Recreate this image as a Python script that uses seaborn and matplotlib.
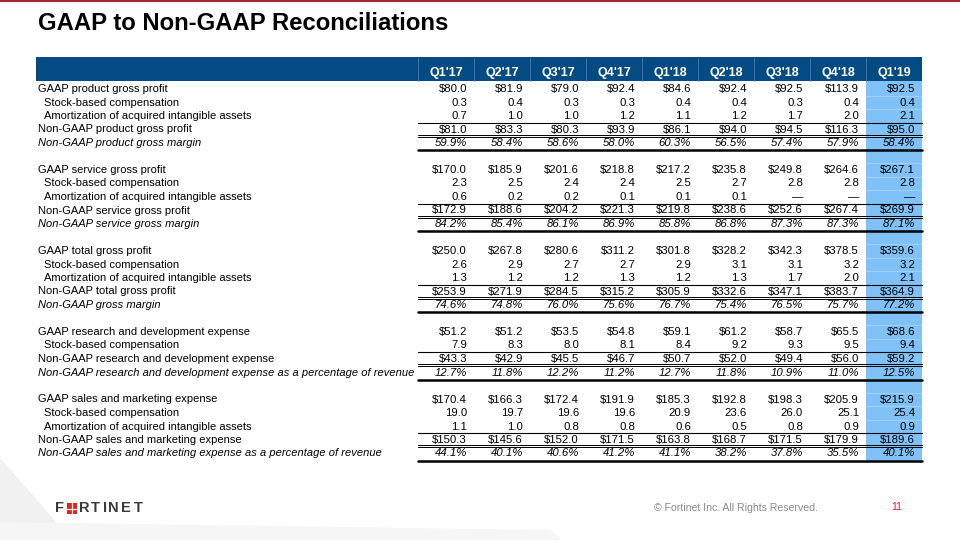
import matplotlib
matplotlib.use("Agg")
import matplotlib.pyplot as plt
import seaborn as sns
import pandas as pd

# Données du tableau (en millions de $)
quarters = ["Q1'17", "Q2'17", "Q3'17", "Q4'17", "Q1'18", "Q2'18", "Q3'18", "Q4'18", "Q1'19"]

product_gaap = [80.0, 81.9, 79.0, 92.4, 84.6, 92.4, 92.5, 113.9, 92.5]
product_sbc = [0.3, 0.4, 0.3, 0.3, 0.4, 0.4, 0.3, 0.4, 0.4]
product_amort = [0.7, 1.0, 1.0, 1.2, 1.1, 1.2, 1.7, 2.0, 2.1]
product_nongaap = [81.0, 83.3, 80.3, 93.9, 86.1, 94.0, 94.5, 116.3, 95.0]
product_margin = [59.9, 58.4, 58.6, 58.0, 60.3, 56.5, 57.4, 57.9, 58.4]

service_gaap = [170.0, 185.9, 201.6, 218.8, 217.2, 235.8, 249.8, 264.6, 267.1]
service_sbc = [2.3, 2.5, 2.4, 2.4, 2.5, 2.7, 2.8, 2.8, 2.8]
service_amort = [0.6, 0.2, 0.2, 0.1, 0.1, 0.1, None, None, None]
service_nongaap = [172.9, 188.6, 204.2, 221.3, 219.8, 238.6, 252.6, 267.4, 269.9]
service_margin = [84.2, 85.4, 86.1, 86.9, 85.8, 86.8, 87.3, 87.3, 87.1]

total_gaap = [250.0, 267.8, 280.6, 311.2, 301.8, 328.2, 342.3, 378.5, 359.6]
total_sbc = [2.6, 2.9, 2.7, 2.7, 2.9, 3.1, 3.1, 3.2, 3.2]
total_amort = [1.3, 1.2, 1.2, 1.3, 1.2, 1.3, 1.7, 2.0, 2.1]
total_nongaap = [253.9, 271.9, 284.5, 315.2, 305.9, 332.6, 347.1, 383.7, 364.9]
total_margin = [74.6, 74.8, 76.0, 75.6, 76.7, 75.4, 76.5, 75.7, 77.2]

rd_gaap = [51.2, 51.2, 53.5, 54.8, 59.1, 61.2, 58.7, 65.5, 68.6]
rd_sbc = [7.9, 8.3, 8.0, 8.1, 8.4, 9.2, 9.3, 9.5, 9.4]
rd_nongaap = [43.3, 42.9, 45.5, 46.7, 50.7, 52.0, 49.4, 56.0, 59.2]
rd_pct = [12.7, 11.8, 12.2, 11.2, 12.7, 11.8, 10.9, 11.0, 12.5]

sm_gaap = [170.4, 166.3, 172.4, 191.9, 185.3, 192.8, 198.3, 205.9, 215.9]
sm_sbc = [19.0, 19.7, 19.6, 19.6, 20.9, 23.6, 26.0, 25.1, 25.4]
sm_amort = [1.1, 1.0, 0.8, 0.8, 0.6, 0.5, 0.8, 0.9, 0.9]
sm_nongaap = [150.3, 145.6, 152.0, 171.5, 163.8, 168.7, 171.5, 179.9, 189.6]
sm_pct = [44.1, 40.1, 40.6, 41.2, 41.1, 38.2, 37.8, 35.5, 40.1]

# (libellé, valeurs, type) ; None = ligne vide
rows = [
    ("GAAP product gross profit", product_gaap, "head"),
    ("Stock-based compensation", product_sbc, "adj"),
    ("Amortization of acquired intangible assets", product_amort, "adj"),
    ("Non-GAAP product gross profit", product_nongaap, "total"),
    ("Non-GAAP product gross margin", product_margin, "pct"),
    None,
    ("GAAP service gross profit", service_gaap, "head"),
    ("Stock-based compensation", service_sbc, "adj"),
    ("Amortization of acquired intangible assets", service_amort, "adj"),
    ("Non-GAAP service gross profit", service_nongaap, "total"),
    ("Non-GAAP service gross margin", service_margin, "pct"),
    None,
    ("GAAP total gross profit", total_gaap, "head"),
    ("Stock-based compensation", total_sbc, "adj"),
    ("Amortization of acquired intangible assets", total_amort, "adj"),
    ("Non-GAAP total gross profit", total_nongaap, "total"),
    ("Non-GAAP gross margin", total_margin, "pct"),
    None,
    ("GAAP research and development expense", rd_gaap, "head"),
    ("Stock-based compensation", rd_sbc, "adj"),
    ("Non-GAAP research and development expense", rd_nongaap, "total"),
    ("Non-GAAP research and development expense as a percentage of revenue", rd_pct, "pct"),
    None,
    ("GAAP sales and marketing expense", sm_gaap, "head"),
    ("Stock-based compensation", sm_sbc, "adj"),
    ("Amortization of acquired intangible assets", sm_amort, "adj"),
    ("Non-GAAP sales and marketing expense", sm_nongaap, "total"),
    ("Non-GAAP sales and marketing expense as a percentage of revenue", sm_pct, "pct"),
]

sns.set_theme(style="white")
plt.rcParams["font.family"] = ["Liberation Sans", "DejaVu Sans"]

fig = plt.figure(figsize=(9.6, 5.4), dpi=100)
ax = fig.add_axes([0, 0, 1, 1])
ax.set_xlim(0, 960)
ax.set_ylim(540, 0)
ax.axis("off")

# Mise en page (pixels)
col_w = 56
col0 = 446
row_h = 13.5
row0 = 89
tab_left, tab_right = 36, 922
data_left = col0 - col_w / 2
head_top, head_bot = 57, 81
last_y = row0 + row_h * (len(rows) - 1)

def fmt(v, kind):
    if v is None:
        return "\u2014"
    if kind in ("head", "total"):
        return f"${v:.1f}"
    if kind == "pct":
        return f"{v:.1f}%"
    return f"{v:.1f}"

# Bandeau rouge en haut + titre
ax.plot([0, 960], [0.6, 0.6], color="#a3262a", lw=1.5)
ax.text(38, 23, "GAAP to Non-GAAP Reconciliations", fontsize=17.2, fontweight="bold",
        ha="left", va="center", color="black")

# En-tête bleu
ax.add_patch(plt.Rectangle((tab_left, head_top), tab_right - tab_left, head_bot - head_top,
                           color="#034b82", lw=0))
for j in range(len(quarters)):
    x = col0 + j * col_w
    ax.plot([x - col_w / 2] * 2, [head_top + 1, head_bot], color="#4f7ba3", lw=0.6)
    ax.text(x, 73, quarters[j], fontsize=9, fontweight="bold", color="white",
            ha="center", va="center")

# Colonne Q1'19 en surbrillance
hx = col0 + (len(quarters) - 1) * col_w - col_w / 2
ax.add_patch(plt.Rectangle((hx, head_bot), col_w, last_y + row_h / 2 + 2 - head_bot,
                           color="#80c2f7", lw=0, zorder=0))
for i in range(len(rows)):
    y = row0 + i * row_h + row_h / 2
    ax.plot([hx, hx + col_w], [y, y], color="white", alpha=0.35, lw=0.5, zorder=0.5)

# Lignes du tableau
for i, r in enumerate(rows):
    if r is None:
        continue
    label, vals, kind = r
    y = row0 + i * row_h
    indent = 44 if kind == "adj" else 38
    style = "italic" if kind == "pct" else "normal"
    ax.text(indent, y, label, fontsize=8, style=style, ha="left", va="center", color="black")
    for j, v in enumerate(vals):
        x = col0 + j * col_w + 21
        ax.text(x, y, fmt(v, kind), fontsize=8.2, style=style, ha="right", va="center",
                color="black")
    if kind == "total":
        yt = y - row_h / 2
        ax.plot([data_left, tab_right], [yt, yt], color="black", lw=0.8)
        yb = y + row_h / 2
        ax.plot([data_left, tab_right], [yb - 1.3, yb - 1.3], color="black", lw=0.7)
        ax.plot([data_left, tab_right], [yb + 0.6, yb + 0.6], color="black", lw=0.7)
    if kind == "pct":
        yb = y + row_h / 2 + 0.6
        ax.plot([data_left, tab_right], [yb, yb], color="black", lw=1.8)

# Décor bas de page
ax.add_patch(plt.Polygon([(0, 458), (0, 540), (72, 540)], color="#f1f1f1", lw=0, zorder=0))
ax.add_patch(plt.Polygon([(0, 522), (550, 530), (562, 540), (0, 540)], color="#f6f6f6",
                         lw=0, zorder=0))

# Logo Fortinet (approximation)
letters = [("F", 55), ("R", 79), ("T", 91), ("I", 103), ("N", 108), ("E", 121), ("T", 134)]
for ch, lx in letters:
    ax.text(lx, 508.5, ch, fontsize=10.5, fontweight="bold", color="#3a3a3a",
            ha="left", va="center")
ax.add_patch(plt.Rectangle((66.5, 503), 10.5, 11, color="#e2231a", lw=0))
ax.plot([71.75, 71.75], [503, 514], color="white", lw=0.9)
ax.plot([66.5, 77], [508.5, 508.5], color="white", lw=0.9)

ax.text(736, 508, "\u00a9 Fortinet Inc. All Rights Reserved.", fontsize=7.6, color="#8a8a8a",
        ha="center", va="center")
ax.text(897, 507, "11", fontsize=7.5, color="#d7262d", ha="center", va="center")

fig.savefig("out.png", dpi=100)
